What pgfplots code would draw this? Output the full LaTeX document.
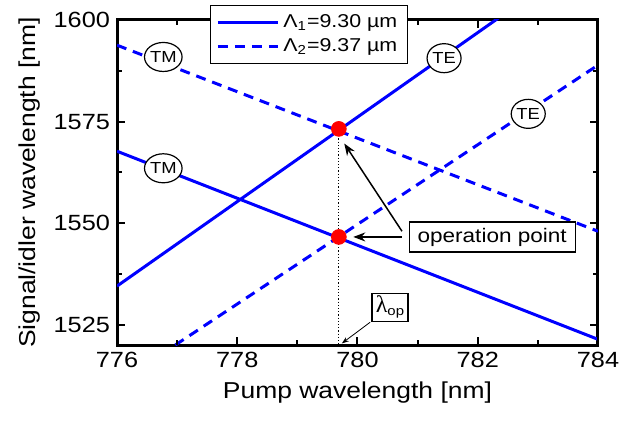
\documentclass[border=0pt]{standalone}
\usepackage{fontspec}
\setmainfont{Liberation Sans}[FakeStretch=1.15]
\newfontfamily\symfont{Liberation Serif}
\usepackage{pgfplots}
\pgfplotsset{compat=1.18}
\usetikzlibrary{arrows.meta,shapes.geometric}
\definecolor{lineblue}{RGB}{0,0,255}

\begin{document}
\begin{tikzpicture}
\begin{axis}[
  width=240.5pt, height=162.5pt, scale only axis,
  xmin=776, xmax=784, ymin=1520, ymax=1600,
  xtick={776,778,780,782,784}, ytick={1525,1550,1575,1600},
  tick align=inside, major tick length=4pt,
  major tick style={black, line width=1pt},
  axis line style={line width=1.5pt},
  /pgf/number format/assume math mode=true,
  /pgf/number format/1000 sep={},
  tick label style={font=\fontsize{11}{12}\selectfont},
  label style={font=\fontsize{11.5}{13}\selectfont},
  xlabel={Pump wavelength [nm]},
  ylabel={Signal/idler wavelength [nm]},
  legend style={at={(rel axis cs:0.193,1.046)}, anchor=north west,
    draw=black, line width=0.6pt, fill=white,
    font=\fontsize{9.3}{11}\selectfont,
    inner xsep=3pt, inner ysep=2.5pt,
    cells={anchor=west}, row sep=0pt},
  legend image code/.code={\draw[#1] (0pt,0pt) -- (30pt,0pt);},
]
% Lambda_1 = 9.30 um (solid)
\addplot[lineblue, line width=1.5pt] coordinates {(776,1534.5) (784,1617.7)};
\addlegendentry{Λ\textsubscript{1}=9.30 µm}
\addplot[lineblue, line width=1.5pt, dash pattern=on 5pt off 3.5pt] coordinates {(776,1593.8) (784,1548.0)};
\addlegendentry{Λ\textsubscript{2}=9.37 µm}
\addplot[lineblue, line width=1.5pt, forget plot] coordinates {(776,1567.7) (784,1521.4)};
\addplot[lineblue, line width=1.5pt, dash pattern=on 5pt off 3.5pt, forget plot] coordinates {(776.97,1520) (784,1588.9)};
% operation point
\addplot[black, line width=0.6pt, densely dotted, forget plot] coordinates {(779.69,1573.2) (779.69,1520)};
\addplot[only marks, mark=*, mark size=3.7pt, red, forget plot] coordinates {(779.69,1573.2) (779.69,1546.6)};
% tick marks on all four sides (long at labelled values, short between)
\pgfplotsinvokeforeach{776,778,780,782,784}{
  \draw[black, line width=1pt] (axis cs:#1,1520) -- ++(0pt,4pt);
  \draw[black, line width=1pt] (axis cs:#1,1600) -- ++(0pt,-4pt);}
\pgfplotsinvokeforeach{777,779,781,783}{
  \draw[black, line width=1pt] (axis cs:#1,1520) -- ++(0pt,2.3pt);
  \draw[black, line width=1pt] (axis cs:#1,1600) -- ++(0pt,-2.3pt);}
\pgfplotsinvokeforeach{1525,1550,1575,1600}{
  \draw[black, line width=1pt] (axis cs:776,#1) -- ++(4pt,0pt);
  \draw[black, line width=1pt] (axis cs:784,#1) -- ++(-4pt,0pt);}
\pgfplotsinvokeforeach{1537.5,1562.5,1587.5}{
  \draw[black, line width=1pt] (axis cs:776,#1) -- ++(2.3pt,0pt);
  \draw[black, line width=1pt] (axis cs:784,#1) -- ++(-2.3pt,0pt);}
% labels
\tikzset{modelab/.style={draw=black, fill=white, line width=0.6pt, ellipse,
  minimum width=17pt, minimum height=14.5pt, inner sep=0pt,
  font=\fontsize{8}{9}\selectfont}}
\node[modelab] at (axis cs:776.77,1590.9) {TM};
\node[modelab] at (axis cs:776.77,1563.5) {TM};
\node[modelab] at (axis cs:781.44,1590.6) {TE};
\node[modelab] at (axis cs:782.84,1576.9) {TE};
\draw[-{Stealth[length=6pt,width=4.5pt]}, line width=0.75pt] (axis cs:780.74,1548.0) -- (axis cs:779.78,1569.6);
\draw[-{Stealth[length=6pt,width=4.5pt]}, line width=0.75pt] (axis cs:780.74,1546.6) -- (axis cs:779.93,1546.6);
\node[draw=black, fill=white, line width=0.6pt, minimum width=83pt, minimum height=15pt, inner sep=1pt,
  font=\fontsize{9.8}{11}\selectfont] at (axis cs:782.24,1546.6) {operation point};
\draw[-{Stealth[length=3.5pt,width=2.5pt]}, line width=0.4pt] (axis cs:780.21,1525.6) -- (axis cs:779.74,1520.4);
\node[draw=black, fill=white, line width=0.6pt, minimum width=18pt, minimum height=14pt, inner sep=0.5pt]
  at (axis cs:780.54,1529.3) {{\symfont\fontsize{12}{12}\selectfont λ}{\fontsize{6.5}{7}\selectfont\raisebox{-1.5pt}{op}}};
\end{axis}
\pgfresetboundingbox
\path[use as bounding box] (-58.5pt,-40pt) rectangle (251pt,172.5pt);
\end{tikzpicture}
\end{document}
